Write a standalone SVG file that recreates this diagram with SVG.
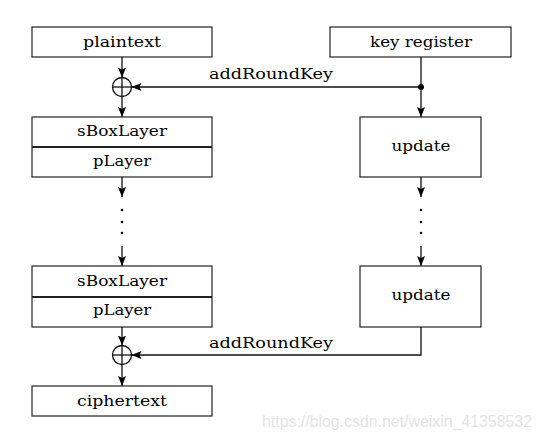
<svg xmlns="http://www.w3.org/2000/svg" width="542" height="439" viewBox="0 0 542 439">
<defs>
<marker id="ah" markerUnits="userSpaceOnUse" markerWidth="12" markerHeight="10" refX="10" refY="5" orient="auto">
<path d="M0,1 L10,5 L0,9 L2,5 Z" fill="#000"/>
</marker>
</defs>
<style>
.box{fill:#fff;stroke:#222;stroke-width:1.2}
.lbl{font-family:"DejaVu Serif","Liberation Serif",serif;font-size:14px;fill:#000;text-anchor:middle}
.ln{fill:none;stroke:#111;stroke-width:1.3}
.arr{fill:none;stroke:#111;stroke-width:1.3;marker-end:url(#ah)}
.dot{fill:#000}
</style>
<rect width="542" height="439" fill="#fff"/>
<g id="plaintext"><rect class="box" x="32" y="27" width="180" height="30"/><text class="lbl" x="122" y="47" textLength="78" lengthAdjust="spacingAndGlyphs">plaintext</text></g>
<g id="keyregister"><rect class="box" x="330" y="27" width="181" height="30"/><text class="lbl" x="421" y="47" textLength="102" lengthAdjust="spacingAndGlyphs">key register</text></g>
<g id="layer1"><rect class="box" x="32" y="117" width="180" height="60"/><line x1="32" y1="147" x2="212" y2="147" stroke="#222" stroke-width="2"/><text class="lbl" x="122" y="136" textLength="90" lengthAdjust="spacingAndGlyphs">sBoxLayer</text><text class="lbl" x="122" y="166" textLength="58" lengthAdjust="spacingAndGlyphs">pLayer</text></g>
<g id="update1"><rect class="box" x="360" y="117" width="121" height="60"/><text class="lbl" x="421" y="151" textLength="59" lengthAdjust="spacingAndGlyphs">update</text></g>
<g id="layer2"><rect class="box" x="32" y="266" width="180" height="61"/><line x1="32" y1="297" x2="212" y2="297" stroke="#222" stroke-width="2"/><text class="lbl" x="122" y="286" textLength="90" lengthAdjust="spacingAndGlyphs">sBoxLayer</text><text class="lbl" x="122" y="315" textLength="58" lengthAdjust="spacingAndGlyphs">pLayer</text></g>
<g id="update2"><rect class="box" x="360" y="266" width="121" height="61"/><text class="lbl" x="421" y="300" textLength="59" lengthAdjust="spacingAndGlyphs">update</text></g>
<g id="ciphertext"><rect class="box" x="32" y="386" width="180" height="30"/><text class="lbl" x="122" y="406" textLength="90" lengthAdjust="spacingAndGlyphs">ciphertext</text></g>
<g id="xor1"><circle cx="122" cy="87" r="9.5" class="ln"/><line class="ln" x1="112.5" y1="87" x2="131.5" y2="87"/><line class="ln" x1="122" y1="77.5" x2="122" y2="96.5"/></g>
<g id="xor2"><circle cx="122" cy="355" r="9.5" class="ln"/><line class="ln" x1="112.5" y1="355" x2="131.5" y2="355"/><line class="ln" x1="122" y1="345.5" x2="122" y2="364.5"/></g>
<g id="connectors">
<line class="arr" x1="122" y1="57" x2="122" y2="77.5"/>
<line class="arr" x1="122" y1="96.5" x2="122" y2="117"/>
<line class="ln" x1="421" y1="57" x2="421" y2="87"/>
<line class="arr" x1="421" y1="87" x2="131.5" y2="87"/>
<circle class="dot" cx="421" cy="87" r="3"/>
<line class="arr" x1="421" y1="87" x2="421" y2="117"/>
<line class="arr" x1="122" y1="177" x2="122" y2="197"/>
<line class="arr" x1="421" y1="177" x2="421" y2="197"/>
<circle class="dot" cx="122" cy="210" r="1.3"/><circle class="dot" cx="122" cy="222" r="1.3"/><circle class="dot" cx="122" cy="233" r="1.3"/>
<circle class="dot" cx="421" cy="210" r="1.3"/><circle class="dot" cx="421" cy="222" r="1.3"/><circle class="dot" cx="421" cy="233" r="1.3"/>
<line class="arr" x1="122" y1="246" x2="122" y2="266"/>
<line class="arr" x1="421" y1="246" x2="421" y2="266"/>
<line class="arr" x1="122" y1="327" x2="122" y2="345.5"/>
<polyline class="arr" points="421,327 421,355 131.5,355"/>
<line class="arr" x1="122" y1="364.5" x2="122" y2="386"/>
<text class="lbl" x="271" y="79" textLength="124" lengthAdjust="spacingAndGlyphs">addRoundKey</text>
<text class="lbl" x="271" y="348" textLength="124" lengthAdjust="spacingAndGlyphs">addRoundKey</text>
</g>
<text x="262" y="427" font-family="Liberation Sans, Arial, sans-serif" font-size="16.5" fill="#e4e4e4" textLength="270" lengthAdjust="spacingAndGlyphs">https://blog.csdn.net/weixin_41358532</text>
</svg>
